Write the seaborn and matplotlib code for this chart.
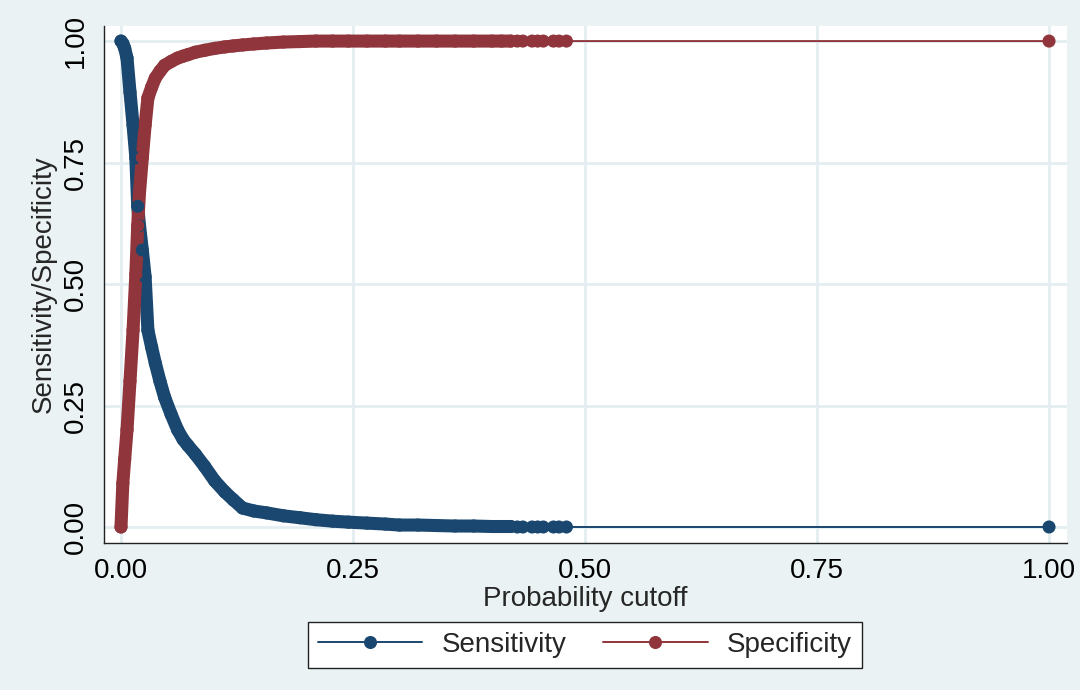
import matplotlib
matplotlib.use("Agg")
import matplotlib.pyplot as plt
from matplotlib.lines import Line2D
import seaborn as sns
import pandas as pd

# ---- data ----
cutoff = [0.000, 0.002, 0.004, 0.0065, 0.0097, 0.013, 0.016, 0.018, 0.020, 0.023,
          0.026, 0.029, 0.033, 0.037, 0.042, 0.047, 0.054, 0.061, 0.067, 0.072,
          0.080, 0.090, 0.101, 0.112, 0.121, 0.131, 0.143, 0.157, 0.175, 0.193,
          0.210, 0.228, 0.245, 0.265, 0.285, 0.300, 0.320, 0.340, 0.360, 0.380,
          0.400, 0.410, 0.420, 0.427, 0.433, 0.443, 0.449, 0.455, 0.466, 0.472,
          0.480, 1.000]
sensitivity = [1.000, 0.995, 0.985, 0.965, 0.895, 0.827, 0.760, 0.660, 0.620, 0.570,
               0.515, 0.405, 0.370, 0.337, 0.300, 0.267, 0.232, 0.200, 0.180, 0.168,
               0.150, 0.125, 0.095, 0.072, 0.056, 0.039, 0.033, 0.029, 0.023, 0.019,
               0.015, 0.012, 0.010, 0.008, 0.006, 0.004, 0.004, 0.003, 0.002, 0.002,
               0.001, 0.001, 0.001, 0.000, 0.000, 0.000, 0.000, 0.000, 0.000, 0.000,
               0.000, 0.000]
specificity = [0.000, 0.090, 0.140, 0.200, 0.300, 0.405, 0.520, 0.620, 0.690, 0.760,
               0.827, 0.883, 0.905, 0.924, 0.938, 0.950, 0.958, 0.965, 0.969, 0.972,
               0.977, 0.981, 0.985, 0.988, 0.990, 0.992, 0.994, 0.996, 0.998, 0.999,
               1.000, 1.000, 1.000, 1.000, 1.000, 1.000, 1.000, 1.000, 1.000, 1.000,
               1.000, 1.000, 1.000, 1.000, 1.000, 1.000, 1.000, 1.000, 1.000, 1.000,
               1.000, 1.000]
series_names = ["Sensitivity", "Specificity"]
xticks = [0.0, 0.25, 0.5, 0.75, 1.0]
yticks = [0.0, 0.25, 0.5, 0.75, 1.0]
xlabel = "Probability cutoff"
ylabel = "Sensitivity/Specificity"

# ---- style ----
BG = "#EAF2F3"
GRID = "#E4EEF0"
NAVY = "#1A476F"
MAROON = "#90353B"
AXC = "#222222"

sns.set_style("white")
plt.rcParams["font.family"] = ["Liberation Sans", "DejaVu Sans"]

df = pd.DataFrame({"cutoff": cutoff, "sens": sensitivity, "spec": specificity})
band = df[df["cutoff"] <= 0.42]

fig = plt.figure(figsize=(10.8, 6.9), dpi=100, facecolor=BG)
ax = fig.add_axes([0.0963, 0.2130, 0.8917, 0.7493])
ax.set_facecolor("white")

MS = 9.4  # marker diameter in points
for col, color in [("sens", NAVY), ("spec", MAROON)]:
    sns.lineplot(data=df, x="cutoff", y=col, color=color, lw=1.4,
                 estimator=None, sort=False, ax=ax, zorder=3)
    sns.lineplot(data=band, x="cutoff", y=col, color=color, lw=MS,
                 solid_capstyle="round", solid_joinstyle="round",
                 estimator=None, sort=False, ax=ax, zorder=3)
    sns.scatterplot(data=df, x="cutoff", y=col, color=color, s=MS ** 2,
                    edgecolor="none", linewidth=0, ax=ax, zorder=4)

ax.set_xlim(-0.0183, 1.0194)
ax.set_ylim(-0.033, 1.031)
ax.set_xticks(xticks)
ax.set_xticklabels([f"{v:.2f}" for v in xticks])
ax.set_yticks(yticks)
ax.set_yticklabels([f"{v:.2f}" for v in yticks], rotation=90, va="center")
ax.grid(True, color=GRID, lw=2.0)
ax.set_axisbelow(True)

for s in ["top", "right"]:
    ax.spines[s].set_visible(False)
for s in ["left", "bottom"]:
    ax.spines[s].set_color(AXC)
    ax.spines[s].set_linewidth(1.0)

ax.tick_params(axis="both", direction="out", length=6, width=1, color=AXC,
               labelsize=20, labelcolor="black", pad=5)
ax.set_xlabel(xlabel, fontsize=20, labelpad=1)
ax.set_ylabel(ylabel, fontsize=20, labelpad=4)

handles = [Line2D([], [], color=NAVY, lw=1.4, marker="o", markersize=MS, markeredgewidth=0),
           Line2D([], [], color=MAROON, lw=1.4, marker="o", markersize=MS, markeredgewidth=0)]
leg = fig.legend(handles, series_names, loc="center",
                 bbox_to_anchor=(585 / 1080, 1 - 645 / 690), ncol=2,
                 frameon=True, fancybox=False, framealpha=1, edgecolor=AXC,
                 handlelength=3.75, handletextpad=0.7, columnspacing=1.33,
                 borderpad=0.35, fontsize=20)
leg.get_frame().set_linewidth(1.0)
leg.get_frame().set_facecolor("white")

fig.savefig("out.png", dpi=100, facecolor=BG)
